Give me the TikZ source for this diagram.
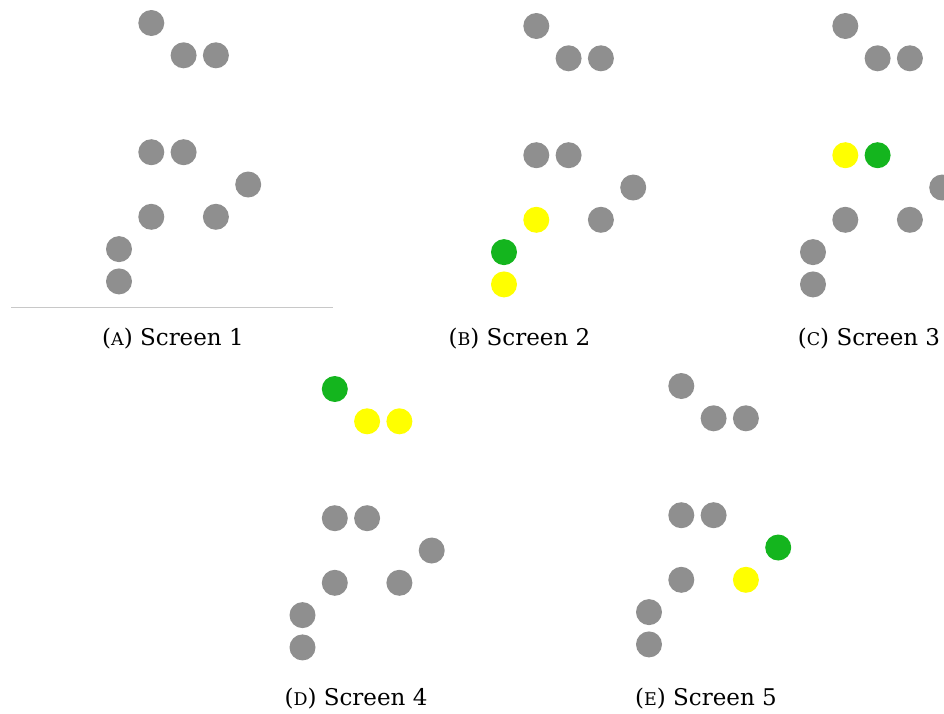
\documentclass[tikz,border=0pt]{standalone}
\usepackage{fontspec}
\setmainfont{DejaVu Serif}
\definecolor{dotgray}{HTML}{8F8F8F}
\definecolor{dotgreen}{HTML}{14B51E}
\definecolor{dotyellow}{HTML}{FFFF00}
\definecolor{rulegray}{HTML}{C8C8C8}
\newcommand{\fakesc}[1]{{\fontsize{17.5}{18}\selectfont #1}}
\begin{document}
\begin{tikzpicture}[x=1pt,y=-1pt,
  dot/.style={circle,inner sep=0pt,minimum size=26pt,fill=dotgray,draw=none},
  gdot/.style={dot,fill=dotgreen},
  ydot/.style={dot,fill=dotyellow},
  captext/.style={anchor=base,inner sep=0pt,font=\fontsize{23}{28}\selectfont}]
\useasboundingbox (0,0) rectangle (944,713);
\clip (0,0) rectangle (944,713);
\def\gs{32.3}
% Screen 1
\begin{scope}[shift={(119,23)}]
\foreach \c/\r/\s [count=\i] in {1/0/dot,2/1/dot,3/1/dot,1/4/dot,2/4/dot,4/5/dot,1/6/dot,3/6/dot,0/7/dot,0/8/dot}
  \node[\s] (a\i) at (\c*\gs,\r*\gs) {};
\end{scope}
% Screen 2
\begin{scope}[shift={(504,26)}]
\foreach \c/\r/\s [count=\i] in {1/0/dot,2/1/dot,3/1/dot,1/4/dot,2/4/dot,4/5/dot,1/6/ydot,3/6/dot,0/7/gdot,0/8/ydot}
  \node[\s] (b\i) at (\c*\gs,\r*\gs) {};
\end{scope}
% Screen 3
\begin{scope}[shift={(813,26)}]
\foreach \c/\r/\s [count=\i] in {1/0/dot,2/1/dot,3/1/dot,1/4/ydot,2/4/gdot,4/5/dot,1/6/dot,3/6/dot,0/7/dot,0/8/dot}
  \node[\s] (c\i) at (\c*\gs,\r*\gs) {};
\end{scope}
% Screen 4
\begin{scope}[shift={(302.5,389)}]
\foreach \c/\r/\s [count=\i] in {1/0/gdot,2/1/ydot,3/1/ydot,1/4/dot,2/4/dot,4/5/dot,1/6/dot,3/6/dot,0/7/dot,0/8/dot}
  \node[\s] (d\i) at (\c*\gs,\r*\gs) {};
\end{scope}
% Screen 5
\begin{scope}[shift={(649,386)}]
\foreach \c/\r/\s [count=\i] in {1/0/dot,2/1/dot,3/1/dot,1/4/dot,2/4/dot,4/5/gdot,1/6/dot,3/6/ydot,0/7/dot,0/8/dot}
  \node[\s] (e\i) at (\c*\gs,\r*\gs) {};
\end{scope}
% rule under screen 1
\coordinate (ruleL) at (11,307);
\coordinate (ruleR) at (333,307);
\draw[rulegray,line width=1pt] (ruleL) -- (ruleR);
% captions
\node[captext] (capA) at (173,345.5) {(\fakesc{A}) Screen 1};
\node[captext] (capB) at (519.5,345.5) {(\fakesc{B}) Screen 2};
\node[captext] (capC) at (869,345.5) {(\fakesc{C}) Screen 3};
\node[captext] (capD) at (356,705.5) {(\fakesc{D}) Screen 4};
\node[captext] (capE) at (706,705.5) {(\fakesc{E}) Screen 5};
\end{tikzpicture}
\end{document}
